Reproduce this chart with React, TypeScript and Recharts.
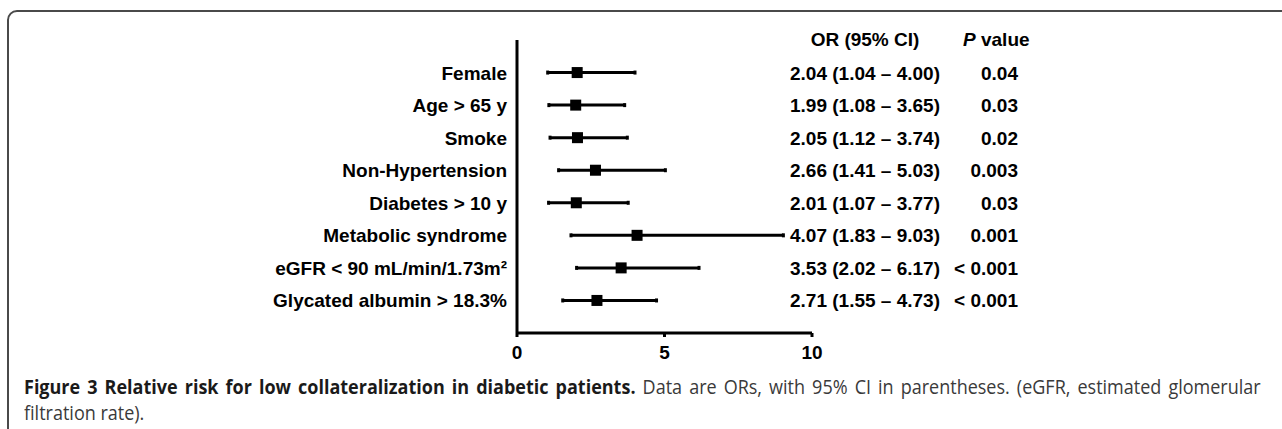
import { ScatterChart, Scatter, XAxis, YAxis, ErrorBar } from "recharts";

const categories = [
  "Female",
  "Age > 65 y",
  "Smoke",
  "Non-Hypertension",
  "Diabetes > 10 y",
  "Metabolic syndrome",
  "eGFR < 90 mL/min/1.73m²",
  "Glycated albumin > 18.3%",
];
const orValues = [2.04, 1.99, 2.05, 2.66, 2.01, 4.07, 3.53, 2.71];
const ciLower = [1.04, 1.08, 1.12, 1.41, 1.07, 1.83, 2.02, 1.55];
const ciUpper = [4.0, 3.65, 3.74, 5.03, 3.77, 9.03, 6.17, 4.73];
const pValues = ["0.04", "0.03", "0.02", "0.003", "0.03", "0.001", "< 0.001", "< 0.001"];
const xTicks = [0, 5, 10];
// -1 is the header row of the table
const rowTicks = [-1, ...categories.map((_, i) => i)];

const rows = categories.map((name, i) => ({
  idx: i,
  or: orValues[i],
  err: [orValues[i] - ciLower[i], ciUpper[i] - orValues[i]],
}));

const FONT = "'Liberation Sans', Arial, sans-serif";
const txtStyle = { fontFamily: FONT, fontWeight: "bold", fontSize: 19, fill: "#000" };

// label on the left plus the OR / P value table on the right of the plot
function RowTick(props: any) {
  const { x, y, payload } = props;
  const i = payload.value;
  if (i < 0) {
    return (
      <g>
        <text x={x + 358} y={y} dy={6} textAnchor="middle" {...txtStyle}>
          OR (95% CI)
        </text>
        <text x={x + 456} y={y} dy={6} textAnchor="start" {...txtStyle}>
          <tspan fontStyle="italic">P</tspan> value
        </text>
      </g>
    );
  }
  const orText = `${orValues[i].toFixed(2)} (${ciLower[i].toFixed(2)} – ${ciUpper[i].toFixed(2)})`;
  return (
    <g>
      <text x={x} y={y} dy={7} textAnchor="end" {...txtStyle}>
        {categories[i]}
      </text>
      <text x={x + 358} y={y} dy={7} textAnchor="middle" {...txtStyle}>
        {orText}
      </text>
      <text x={x + 511} y={y} dy={7} textAnchor="end" {...txtStyle}>
        {pValues[i]}
      </text>
    </g>
  );
}

export default function App() {
  return (
    <div style={{ position: "absolute", left: 0, top: 0, width: 1282, height: 429, overflow: "hidden", background: "#fff" }}>
      <div
        style={{
          position: "absolute",
          left: 7,
          top: 10,
          width: 1300,
          height: 440,
          border: "2px solid #4a4a4a",
          borderTopLeftRadius: 10,
          boxSizing: "border-box",
        }}
      />
      <div style={{ position: "absolute", left: 0, top: 0 }}>
        <ScatterChart width={1282} height={370} margin={{ top: 40, right: 470, bottom: 0, left: 8 }}>
          <XAxis
            type="number"
            dataKey="or"
            domain={[0, 10]}
            ticks={xTicks}
            height={37}
            axisLine={{ stroke: "#000", strokeWidth: 3 }}
            tickLine={{ stroke: "#000", strokeWidth: 3 }}
            tickSize={4}
            tickMargin={9}
            tick={{ fontFamily: FONT, fontWeight: "bold", fontSize: 19, fill: "#000" }}
          />
          <YAxis
            type="number"
            dataKey="idx"
            domain={[-1, 8]}
            reversed
            ticks={rowTicks}
            width={509}
            axisLine={{ stroke: "#000", strokeWidth: 3 }}
            tickLine={false}
            tickSize={0}
            tickMargin={10}
            tick={<RowTick />}
            interval={0}
          />
          <Scatter
            data={rows}
            isAnimationActive={false}
            shape={(p: any) => <rect x={p.cx - 5.5} y={p.cy - 5.5} width={11} height={11} fill="#000" />}
          >
            <ErrorBar dataKey="err" direction="x" width={2} stroke="#000" strokeWidth={3} />
          </Scatter>
        </ScatterChart>
      </div>
      <div
        style={{
          position: "absolute",
          left: 24,
          top: 374,
          width: 1374,
          fontFamily: "'Open Sans', sans-serif",
          fontSize: 20,
          lineHeight: "26px",
          color: "#3a3a3a",
          transform: "scaleX(0.9)",
          transformOrigin: "left top",
        }}
      >
        <div style={{ textAlign: "justify", textAlignLast: "justify", whiteSpace: "nowrap" }}>
          <b style={{ color: "#1a1a1a" }}>Figure 3 Relative risk for low collateralization in diabetic patients.</b> Data are
          ORs, with 95% CI in parentheses. (eGFR, estimated glomerular
        </div>
        <div>filtration rate).</div>
      </div>
    </div>
  );
}
